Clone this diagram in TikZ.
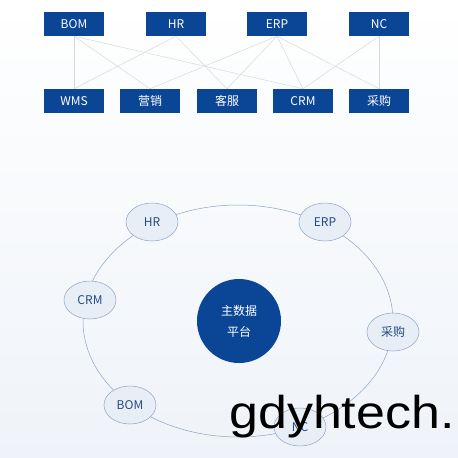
\documentclass[tikz,border=0pt]{standalone}
\usepackage{fontspec}
\setmainfont{Noto Sans CJK SC}
\newfontfamily\markfont{Liberation Sans}
\usepackage{xcolor}
\usepackage{tikz}
\usetikzlibrary{shapes.geometric}

\definecolor{boxblue}{HTML}{0B4595}
\definecolor{ringblue}{HTML}{8FA3C4}
\definecolor{softblue}{HTML}{E8EEF6}
\definecolor{textblue}{HTML}{274A82}

\begin{document}
\begin{tikzpicture}[x=1pt, y=-1pt,
	sysbox/.style={fill=boxblue, text=white, minimum width=60pt, minimum height=24pt, inner sep=0pt, font=\fontsize{12}{12}\selectfont},
	link/.style={draw=black!15, line width=0.5pt},
	bubble/.style={ellipse, draw=ringblue, fill=softblue, line width=0.5pt, minimum width=52pt, minimum height=38pt, inner sep=0pt, text=textblue, font=\fontsize{12}{12}\selectfont}]

% background
\shade[top color=white, bottom color=softblue!70] (0,0) rectangle (458,458);
\useasboundingbox (0,0) rectangle (458,458);

% top row
\node[sysbox] (bom) at (74,24) {BOM};
\node[sysbox] (hr) at (176,24) {HR};
\node[sysbox] (erp) at (277,24) {ERP};
\node[sysbox] (nc) at (379,24) {NC};

% bottom row
\node[sysbox] (wms) at (74,101) {WMS};
\node[sysbox] (yx) at (150,101) {营销};
\node[sysbox] (kf) at (227,101) {客服};
\node[sysbox] (crm) at (303,101) {CRM};
\node[sysbox] (cg) at (379,101) {采购};

\foreach \a/\b in {bom/wms, bom/yx, bom/crm, hr/wms, hr/kf, erp/yx, erp/kf, erp/crm, erp/cg, nc/crm, nc/cg}{
	\draw[link] (\a.south) -- (\b.north);
}

% ring
\draw[ringblue, line width=0.5pt] (238,321) ellipse (155pt and 116pt);

\node[circle, fill=boxblue, text=white, minimum size=84pt, inner sep=0pt, align=center, font=\fontsize{12}{21}\selectfont] (mdm) at (239,321) {主数据\\平台};

\node[bubble] (hr2) at (152,222) {HR};
\node[bubble] (erp2) at (325,222) {ERP};
\node[bubble] (crm2) at (90,300) {CRM};
\node[bubble] (cg2) at (393,332) {采购};
\node[bubble] (bom2) at (130,405) {BOM};
\node[bubble] (nc2) at (300,427) {NC};

% mark
\node[anchor=base west, inner sep=0pt, xscale=1.13, font=\markfont\fontsize{46}{46}\selectfont] (mark) at (229,428) {gdyhtech.};

\end{tikzpicture}
\end{document}
